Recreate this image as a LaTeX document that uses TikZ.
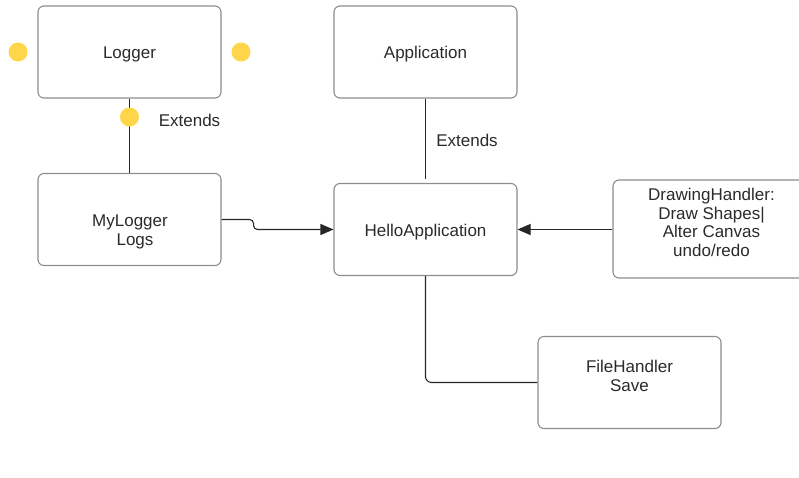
\documentclass[tikz,border=0pt]{standalone}
\usepackage{fontspec}
\setmainfont{Liberation Sans}
\usetikzlibrary{arrows.meta}
\definecolor{boxgray}{HTML}{8C8C8C}
\definecolor{linec}{HTML}{262626}
\definecolor{txt}{HTML}{2A2A2A}
\definecolor{dotc}{HTML}{FFD54A}
\tikzset{
  box/.style={rectangle, rounded corners=6pt, draw=boxgray, line width=1.1pt, minimum width=183pt, minimum height=92pt, inner sep=0pt},
  lbl/.style={font=\fontsize{17}{19.5}\selectfont, text=txt, align=center, inner sep=0pt, yshift=-2.5pt},
  conn/.style={draw=linec, line width=1.1pt},
  arr/.style={conn, -{Triangle[length=13pt,width=11pt]}},
  dot/.style={circle, fill=dotc, minimum size=19pt, inner sep=0pt}
}
\begin{document}
\begin{tikzpicture}[x=1pt,y=-1pt]
\useasboundingbox (0,0) rectangle (799,477);
\clip (0,0) rectangle (799,477);
% boxes
\node[box] (logger) at (129.5,52) {};
\node[lbl] (loggert) at (129.5,52) {Logger};
\node[box] (app) at (425.5,52) {};
\node[lbl] (appt) at (425.5,52) {Application};
\node[box] (mylog) at (129.5,219.5) {};
\node[lbl] (mylogt) at (130,229.5) {MyLogger\\\hspace*{10pt}Logs};
\node[box] (hello) at (425.5,229.5) {};
\node[lbl] (hellot) at (425.5,229.5) {HelloApplication};
\node[box, minimum width=197pt, minimum height=98pt] (draw) at (711.5,229) {};
\node[lbl, font=\fontsize{17}{18.7}\selectfont] (drawt) at (711.5,220) {DrawingHandler:\\Draw Shapes|\\Alter Canvas\\undo/redo};
\node[box] (file) at (629.5,382.5) {};
\node[lbl] (filet) at (629.5,373.5) {FileHandler\\Save};
% connectors
\coordinate (append) at (425.5,179);
\draw[conn] (logger.south) -- (mylog.north);
\draw[conn] (app.south) -- (append);
\draw[arr, rounded corners=4pt] (mylog.east) -- ++(32,0) |- (hello.west);
\draw[arr] (draw.west |- hello.east) -- (hello.east);
\draw[conn, rounded corners=6pt] (hello.south) |- (file.west);
% dots
\node[dot] (d1) at (18,52) {};
\node[dot] (d2) at (241,52) {};
\node[dot] (d3) at (129.5,117) {};
% labels
\node[lbl] (ext1) at (189.5,118) {Extends};
\node[lbl] (ext2) at (467,138) {Extends};
\end{tikzpicture}
\end{document}
